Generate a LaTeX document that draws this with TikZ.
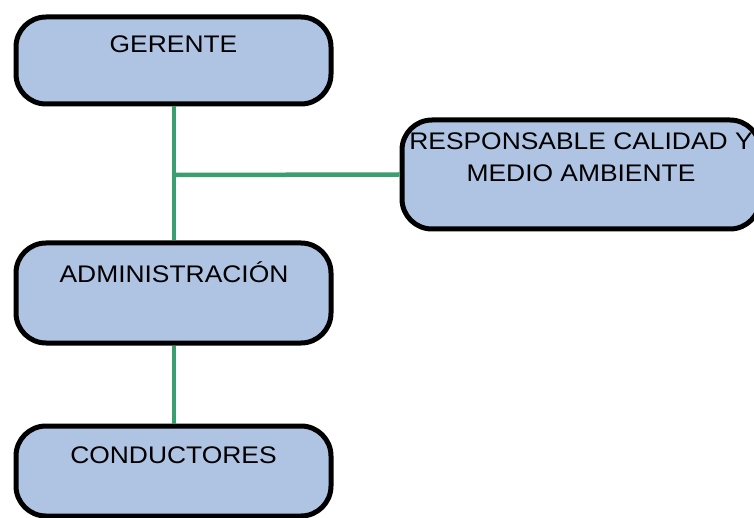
\documentclass[tikz,border=0pt]{standalone}
\usepackage{fontspec}
\setmainfont{Liberation Sans}[FakeStretch=1.1]
\definecolor{boxfill}{HTML}{AFC3E3}
\definecolor{linkgreen}{HTML}{3A9E6E}
\begin{document}
\begin{tikzpicture}[x=1pt,y=-1pt,
  orgbox/.style={draw=black,line width=5pt,fill=boxfill,rounded corners=30pt,inner sep=0pt},
  lbl/.style={font=\fontsize{24}{32}\selectfont,inner sep=0pt,anchor=base,align=center},
  link/.style={draw=linkgreen,line width=4.5pt}]
\useasboundingbox (0,0) rectangle (754,518);
\clip (0,0) rectangle (754,518);
% boxes
\node[orgbox,minimum width=315pt,minimum height=87pt] (G) at (173.5,60.5) {};
\node[orgbox,minimum width=358pt,minimum height=109pt] (R) at (581,174.5) {};
\node[orgbox,minimum width=315pt,minimum height=100pt] (A) at (173.5,293) {};
\node[orgbox,minimum width=315pt,minimum height=90pt] (C) at (173.5,471) {};
% connectors
\coordinate (J) at (174,175);
\draw[link] (G.south -| J) -- (A.north -| J);
\draw[link] (J) -- (R.west);
\draw[link] (A.south -| J) -- (C.north -| J);
% texts
\node[lbl] (tG) at (173.5,53) {GERENTE};
\node[lbl] (tR) at (581,182) {RESPONSABLE CALIDAD Y\\MEDIO AMBIENTE};
\node[lbl] (tA) at (174,283) {ADMINISTRACIÓN};
\node[lbl] (tC) at (173.5,463) {CONDUCTORES};
\end{tikzpicture}
\end{document}
